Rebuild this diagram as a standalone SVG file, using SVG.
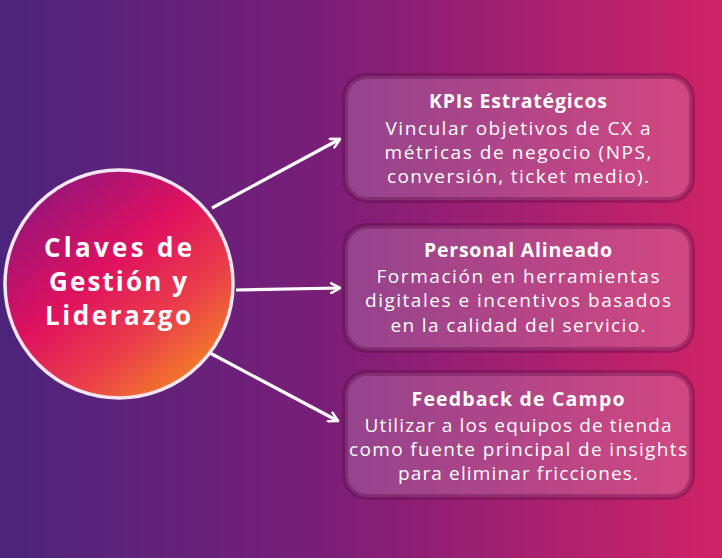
<svg xmlns="http://www.w3.org/2000/svg" width="722" height="558" viewBox="0 0 722 558">
<defs>
<linearGradient id="bg" x1="0" y1="0" x2="1" y2="0">
<stop offset="0" stop-color="#4b257b"/>
<stop offset="0.45" stop-color="#7a1e78"/>
<stop offset="1" stop-color="#d02366"/>
</linearGradient>
<linearGradient id="circ" x1="0.15" y1="0.1" x2="0.85" y2="0.95">
<stop offset="0" stop-color="#98157a"/>
<stop offset="0.4" stop-color="#df115f"/>
<stop offset="0.7" stop-color="#ea3e4a"/>
<stop offset="1" stop-color="#f58524"/>
</linearGradient>
<marker id="ah" viewBox="0 0 12 12" refX="10" refY="6" markerWidth="12" markerHeight="12" markerUnits="userSpaceOnUse" orient="auto">
<path d="M1,1 L10,6 L1,11" fill="none" stroke="#ffffff" stroke-width="2.6" stroke-linecap="round" stroke-linejoin="round"/>
</marker>
<style>
.box{fill:#ffffff;fill-opacity:0.17;stroke:#5a0a45;stroke-opacity:0.35;stroke-width:6}
.t{font-family:"Open Sans","DejaVu Sans",sans-serif;font-weight:700;font-size:19.5px;fill:#ffffff;text-anchor:middle}
.b{font-family:"Open Sans","DejaVu Sans",sans-serif;font-size:19px;fill:#ffffff;text-anchor:middle}
.c{font-family:"Open Sans","DejaVu Sans",sans-serif;font-weight:700;font-size:26px;fill:#ffffff;text-anchor:middle}
.con{stroke:#ffffff;stroke-width:3.2;fill:none;marker-end:url(#ah)}
</style>
</defs>
<rect x="0" y="0" width="722" height="558" fill="url(#bg)"/>
<g id="connectors">
<line class="con" x1="212" y1="208" x2="340" y2="139"/>
<line class="con" x1="236" y1="290" x2="340" y2="288"/>
<line class="con" x1="210" y1="353" x2="338" y2="421"/>
</g>
<g id="center">
<circle cx="119" cy="284" r="114" fill="url(#circ)" stroke="#f3e6f2" stroke-width="3.5"/>
<text class="c" x="118" y="257" textLength="148" lengthAdjust="spacing">Claves de</text>
<text class="c" x="118" y="291" textLength="138" lengthAdjust="spacing">Gestión y</text>
<text class="c" x="118" y="325" textLength="146" lengthAdjust="spacing">Liderazgo</text>
</g>
<g id="kpis">
<rect class="box" x="345" y="76" width="347" height="124" rx="22"/>
<text class="t" x="518" y="108" textLength="178" lengthAdjust="spacing">KPIs Estratégicos</text>
<text class="b" x="518" y="135" textLength="265" lengthAdjust="spacing">Vincular objetivos de CX a</text>
<text class="b" x="518" y="159" textLength="267" lengthAdjust="spacing">métricas de negocio (NPS,</text>
<text class="b" x="518" y="183" textLength="262" lengthAdjust="spacing">conversión, ticket medio).</text>
</g>
<g id="personal">
<rect class="box" x="345" y="226" width="347" height="124" rx="22"/>
<text class="t" x="518" y="257" textLength="188" lengthAdjust="spacing">Personal Alineado</text>
<text class="b" x="518" y="283" textLength="283" lengthAdjust="spacing">Formación en herramientas</text>
<text class="b" x="518" y="307" textLength="306" lengthAdjust="spacing">digitales e incentivos basados</text>
<text class="b" x="518" y="332" textLength="255" lengthAdjust="spacing">en la calidad del servicio.</text>
</g>
<g id="feedback">
<rect class="box" x="345" y="373" width="347" height="124" rx="22"/>
<text class="t" x="518" y="406" textLength="213" lengthAdjust="spacing">Feedback de Campo</text>
<text class="b" x="518" y="432" textLength="307" lengthAdjust="spacing">Utilizar a los equipos de tienda</text>
<text class="b" x="518" y="456" textLength="338" lengthAdjust="spacing">como fuente principal de insights</text>
<text class="b" x="518" y="480" textLength="240" lengthAdjust="spacing">para eliminar fricciones.</text>
</g>
</svg>
